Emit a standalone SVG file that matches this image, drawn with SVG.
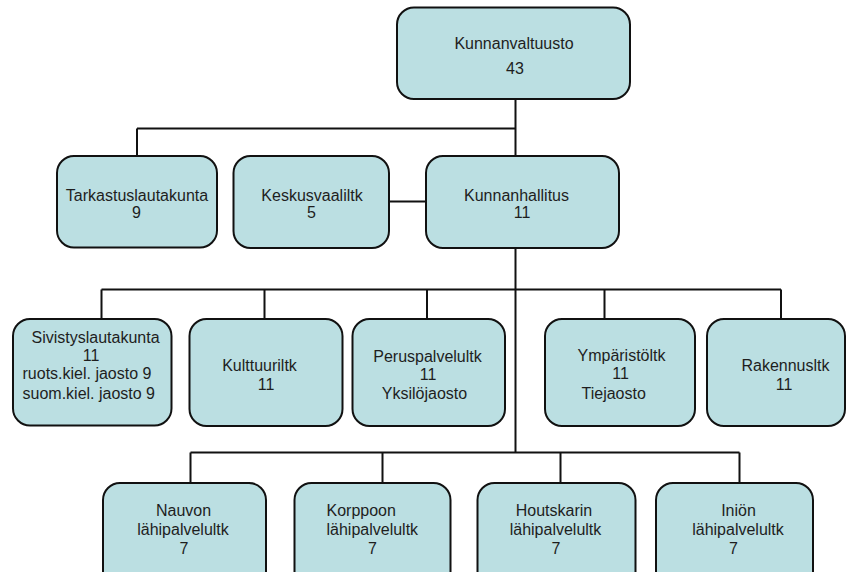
<svg xmlns="http://www.w3.org/2000/svg" width="847" height="572" viewBox="0 0 847 572">
<style>
.box{fill:#bbdfe2;stroke:#111;stroke-width:2}
.t{font-family:"Liberation Sans",Arial,sans-serif;font-size:16px;fill:#1e1e1e;text-anchor:middle}
.s{text-anchor:start}
.c{fill:none;stroke:#111;stroke-width:2}
</style>
<rect width="847" height="572" fill="#fff"/>
<g id="connectors">
<path class="c" d="M515.5 99V156M137 128.5H515.5M137 128.5V156"/>
<path class="c" d="M389 201.5H426"/>
<path class="c" d="M515.5 248V452.5"/>
<path class="c" d="M101.5 289.5H781M101.5 289.5V319M264.5 289.5V319M427 289.5V319M604.5 289.5V319M781 289.5V319"/>
<path class="c" d="M190.5 452.5H739.5M190.5 452.5V483M382.5 452.5V483M560.5 452.5V483M739.5 452.5V483"/>
</g>
<g id="kunnanvaltuusto">
<rect class="box" x="397" y="7.5" width="233" height="91.5" rx="17"/>
<text class="t" x="514" y="49">Kunnanvaltuusto</text>
<text class="t" x="515" y="74">43</text>
</g>
<g id="tarkastuslautakunta">
<rect class="box" x="57" y="156" width="160" height="91.5" rx="17"/>
<text class="t" x="137" y="200.5">Tarkastuslautakunta</text>
<text class="t" x="136.5" y="218">9</text>
</g>
<g id="keskusvaaliltk">
<rect class="box" x="233.5" y="156" width="155.5" height="92" rx="17"/>
<text class="t" x="312" y="200.5">Keskusvaaliltk</text>
<text class="t" x="311.5" y="218">5</text>
</g>
<g id="kunnanhallitus">
<rect class="box" x="426" y="156" width="193" height="92" rx="17"/>
<text class="t" x="516.5" y="200.5">Kunnanhallitus</text>
<text class="t" x="522" y="218">11</text>
</g>
<g id="sivistyslautakunta">
<rect class="box" x="13" y="319" width="158.5" height="106.5" rx="17"/>
<text class="t s" x="31.5" y="343">Sivistyslautakunta</text>
<text class="t" x="91" y="361">11</text>
<text class="t s" x="22.5" y="379">ruots.kiel. jaosto 9</text>
<text class="t s" x="22.5" y="399">suom.kiel. jaosto 9</text>
</g>
<g id="kulttuuriltk">
<rect class="box" x="189.5" y="319" width="153" height="107" rx="17"/>
<text class="t" x="259.5" y="370.5">Kulttuuriltk</text>
<text class="t" x="266" y="390">11</text>
</g>
<g id="peruspalveluLtk">
<rect class="box" x="352.5" y="319" width="152.5" height="107" rx="17"/>
<text class="t" x="427.5" y="361.5">Peruspalvelultk</text>
<text class="t" x="428" y="379.5">11</text>
<text class="t" x="424.5" y="399">Yksilöjaosto</text>
</g>
<g id="ymparistoltk">
<rect class="box" x="545" y="319" width="150" height="107" rx="17"/>
<text class="t" x="621.5" y="361">Ympäristöltk</text>
<text class="t" x="620.5" y="379">11</text>
<text class="t s" x="581.5" y="398.5">Tiejaosto</text>
</g>
<g id="rakennusltk">
<rect class="box" x="707" y="319" width="138" height="107" rx="17"/>
<text class="t" x="785.5" y="370.5">Rakennusltk</text>
<text class="t" x="784" y="390">11</text>
</g>
<g id="nauvon">
<rect class="box" x="103" y="483" width="163" height="120" rx="17"/>
<text class="t" x="183.5" y="516">Nauvon</text>
<text class="t" x="183" y="535">lähipalvelultk</text>
<text class="t" x="184" y="553.5">7</text>
</g>
<g id="korppoon">
<rect class="box" x="294.5" y="483" width="156" height="120" rx="17"/>
<text class="t s" x="326.5" y="516">Korppoon</text>
<text class="t s" x="326.5" y="535">lähipalvelultk</text>
<text class="t" x="372.5" y="553.5">7</text>
</g>
<g id="houtskarin">
<rect class="box" x="477.5" y="483" width="158" height="120" rx="17"/>
<text class="t" x="554" y="516">Houtskarin</text>
<text class="t" x="555.5" y="535">lähipalvelultk</text>
<text class="t" x="556" y="553.5">7</text>
</g>
<g id="inion">
<rect class="box" x="656" y="483" width="157" height="120" rx="17"/>
<text class="t" x="738.5" y="516">Iniön</text>
<text class="t" x="738" y="535">lähipalvelultk</text>
<text class="t" x="733.5" y="553.5">7</text>
</g>
</svg>
